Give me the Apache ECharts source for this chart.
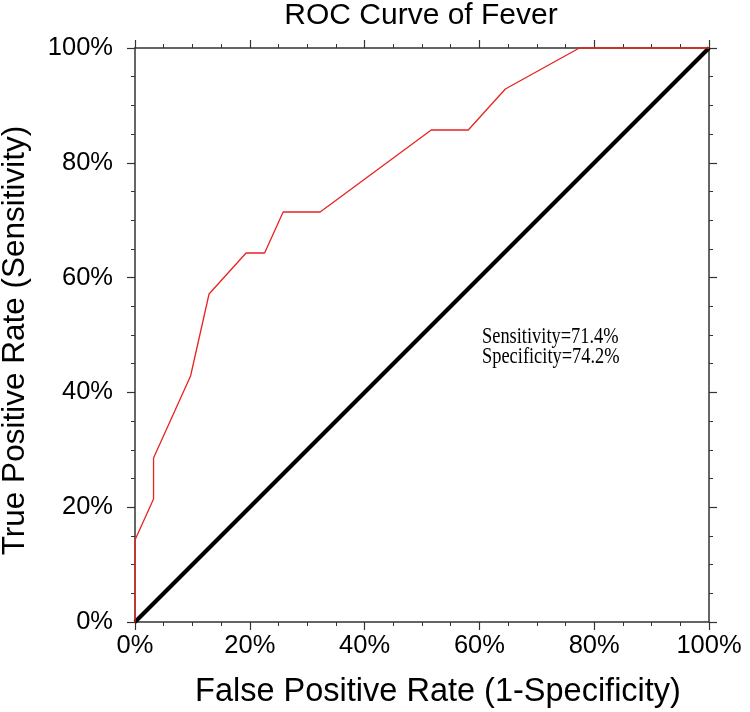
<!DOCTYPE html>
<html>
<head>
<meta charset="utf-8">
<script src="https://cdn.jsdelivr.net/npm/echarts@6/dist/echarts.min.js"></script>
<style>html,body{margin:0;padding:0;background:#fff;}#c{width:750px;height:712px;}</style>
</head>
<body>
<div id="c"></div>
<script>
// ROC curve points: false positive rate (%) and true positive rate (%)
const fpr = [0, 0, 3.23, 3.23, 9.68, 12.90, 19.35, 22.58, 25.81, 32.26, 51.61, 58.06, 64.52, 77.42, 100];
const tpr = [0, 14.29, 21.43, 28.57, 42.86, 57.14, 64.29, 64.29, 71.43, 71.43, 85.71, 85.71, 92.86, 100, 100];
const refX = [0, 100];
const refY = [0, 100];
const tickValues = [0, 20, 40, 60, 80, 100];
const titleText = 'ROC Curve of Fever';
const xName = 'False Positive Rate (1-Specificity)';
const yName = 'True Positive Rate (Sensitivity)';
const annoLines = ['Sensitivity=71.4%', 'Specificity=74.2%'];

const rocData = fpr.map((x, i) => [x, tpr[i]]);
const refData = refX.map((x, i) => [x, refY[i]]);

const sans = 'Liberation Sans, Arial, sans-serif';
const axisColor = '#333';

function makeAxis(extra) {
  return Object.assign({
    type: 'value', min: 0, max: 100, interval: 20, splitNumber: tickValues.length - 1,
    axisLine: { show: true, onZero: false, lineStyle: { color: axisColor, width: 1.5 } },
    axisTick: { show: true, inside: false, length: 8, lineStyle: { color: axisColor, width: 1.2 } },
    minorTick: { show: true, splitNumber: 4, length: 4, lineStyle: { color: axisColor, width: 1 } },
    splitLine: { show: false },
    axisLabel: { show: true, formatter: '{value}%', color: '#000', fontSize: 25, fontFamily: sans }
  }, extra);
}

const chart = echarts.init(document.getElementById('c'), null, { renderer: 'canvas' });
chart.setOption({
  backgroundColor: '#fff',
  animation: false,
  title: {
    text: titleText, left: 416, top: -4, textAlign: 'center',
    textStyle: { fontSize: 30, fontWeight: 'normal', color: '#000', fontFamily: sans }
  },
  grid: { left: 135, top: 48, width: 574, height: 574, containLabel: false, outerBoundsMode: 'none' },
  xAxis: [
    makeAxis({ position: 'bottom', name: xName, nameLocation: 'middle', nameGap: 54,
      nameTextStyle: { fontSize: 32.5, color: '#000', fontFamily: sans, padding: [0, 0, 0, 32] },
      axisLabel: { show: true, margin: 11, formatter: '{value}%', color: '#000', fontSize: 25.5, fontFamily: sans } }),
    makeAxis({ position: 'top', axisLabel: { show: false } })
  ],
  yAxis: [
    makeAxis({ position: 'left', name: yName, nameLocation: 'middle', nameGap: 104,
      nameTextStyle: { fontSize: 31.5, color: '#000', fontFamily: sans, padding: [0, 11, 0, 0] },
      axisLabel: { show: true, margin: 22, formatter: '{value}%', color: '#000', fontSize: 25.5, fontFamily: sans } }),
    makeAxis({ position: 'right', axisLabel: { show: false } })
  ],
  series: [
    {
      type: 'line', data: refData, xAxisIndex: 0, yAxisIndex: 0,
      showSymbol: false, clip: false, z: 3,
      lineStyle: { color: '#000', width: 4 }
    },
    {
      type: 'line', data: rocData, xAxisIndex: 0, yAxisIndex: 0,
      showSymbol: false, clip: false, z: 4,
      lineStyle: { color: '#e8231f', width: 1.3 }
    }
  ],
  graphic: annoLines.map((t, i) => ({
    type: 'text', x: 482, y: 337 + i * 20, scaleX: 0.8, z: 10,
    style: { text: t, fill: '#000', fontSize: 23, fontFamily: 'Liberation Serif, Times New Roman, serif',
      align: 'left', verticalAlign: 'middle' }
  }))
});
</script>
</body>
</html>
